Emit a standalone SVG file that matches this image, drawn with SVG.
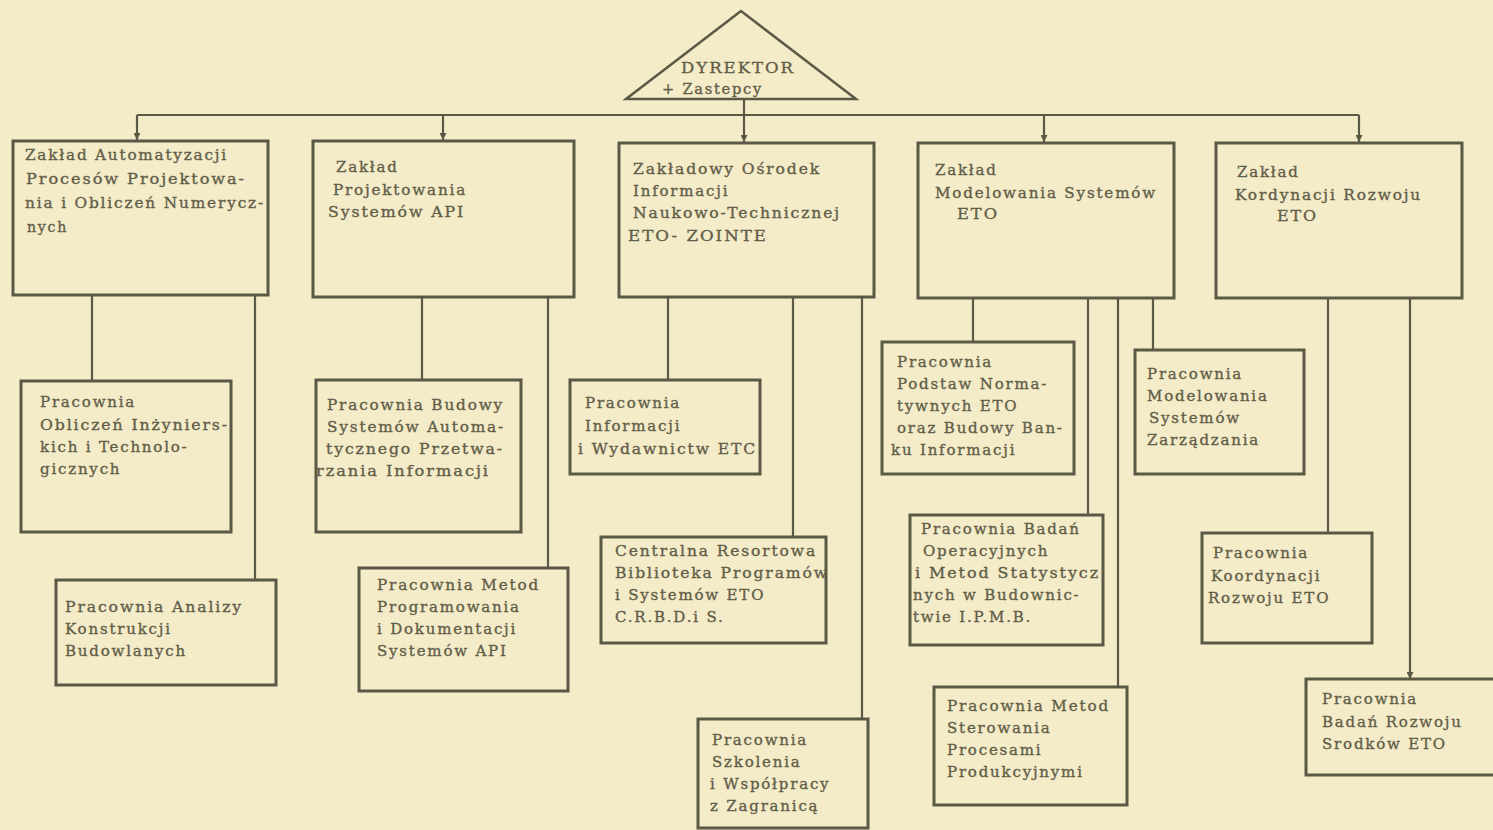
<svg xmlns="http://www.w3.org/2000/svg" width="1493" height="830" viewBox="0 0 1493 830">
<style>
.bg{fill:#f4ebc8}
.box{fill:none;stroke:#5a5946;stroke-width:3}
.con{fill:none;stroke:#5a5946;stroke-width:2.2}
text{font-family:"DejaVu Serif","Liberation Serif",serif;font-size:15px;letter-spacing:1.8px;fill:#625e48;stroke:#625e48;stroke-width:0.35}
</style>
<defs>
<marker id="arr" viewBox="0 0 10 10" refX="10" refY="5" markerWidth="8" markerHeight="7" markerUnits="userSpaceOnUse" orient="auto">
<path d="M0,0 L10,5 L0,10 Z" fill="#5a5946"/>
</marker>
</defs>
<rect class="bg" x="0" y="0" width="1493" height="830"/>

<g id="connectors">
<path class="con" d="M137,115 L1359,115"/>
<path class="con" d="M744,99 L744,142" marker-end="url(#arr)"/>
<path class="con" d="M137,115 L137,140" marker-end="url(#arr)"/>
<path class="con" d="M443,115 L443,140" marker-end="url(#arr)"/>
<path class="con" d="M1044,115 L1044,142" marker-end="url(#arr)"/>
<path class="con" d="M1359,115 L1359,142" marker-end="url(#arr)"/>
<path class="con" d="M92,295 L92,381"/>
<path class="con" d="M255,295 L255,580"/>
<path class="con" d="M422,297 L422,380"/>
<path class="con" d="M548,297 L548,568"/>
<path class="con" d="M668,297 L668,380"/>
<path class="con" d="M793,297 L793,537"/>
<path class="con" d="M862,297 L862,719"/>
<path class="con" d="M973,298 L973,342"/>
<path class="con" d="M1088,298 L1088,515"/>
<path class="con" d="M1118,298 L1118,687"/>
<path class="con" d="M1153,298 L1153,350"/>
<path class="con" d="M1328,298 L1328,533"/>
<path class="con" d="M1410,298 L1410,679" marker-end="url(#arr)"/>
</g>

<g id="dyrektor">
<path d="M741,11 L626,99 L856,99 Z" fill="none" stroke="#5a5946" stroke-width="2.5"/>
<text x="681" y="73" textLength="114" lengthAdjust="spacingAndGlyphs">DYREKTOR</text>
<text x="662" y="94" textLength="101" lengthAdjust="spacingAndGlyphs">+ Zastepcy</text>
</g>

<g id="zaklad-automatyzacji">
<rect class="box" x="13" y="141" width="255" height="154"/>
<text x="25" y="160" textLength="203" lengthAdjust="spacingAndGlyphs">Zakład Automatyzacji</text>
<text x="26" y="184" textLength="220" lengthAdjust="spacingAndGlyphs">Procesów Projektowa-</text>
<text x="25" y="208" textLength="240" lengthAdjust="spacingAndGlyphs">nia i Obliczeń Numerycz-</text>
<text x="27" y="232" textLength="41" lengthAdjust="spacingAndGlyphs">nych</text>
</g>

<g id="zaklad-projektowania">
<rect class="box" x="313" y="141" width="261" height="156"/>
<text x="336" y="172">Zakład</text>
<text x="333" y="195" textLength="134" lengthAdjust="spacingAndGlyphs">Projektowania</text>
<text x="328" y="217" textLength="137" lengthAdjust="spacingAndGlyphs">Systemów API</text>
</g>

<g id="zaklad-zointe">
<rect class="box" x="619" y="143" width="255" height="154"/>
<text x="633" y="174" textLength="188" lengthAdjust="spacingAndGlyphs">Zakładowy Ośrodek</text>
<text x="633" y="196">Informacji</text>
<text x="633" y="218" textLength="208" lengthAdjust="spacingAndGlyphs">Naukowo-Technicznej</text>
<text x="628" y="241" textLength="140" lengthAdjust="spacingAndGlyphs">ETO- ZOINTE</text>
</g>

<g id="zaklad-modelowania">
<rect class="box" x="918" y="143" width="256" height="155"/>
<text x="935" y="175">Zakład</text>
<text x="935" y="198" textLength="222" lengthAdjust="spacingAndGlyphs">Modelowania Systemów</text>
<text x="957" y="219" textLength="42" lengthAdjust="spacingAndGlyphs">ETO</text>
</g>

<g id="zaklad-kordynacji">
<rect class="box" x="1216" y="143" width="246" height="155"/>
<text x="1237" y="177">Zakład</text>
<text x="1235" y="200" textLength="187" lengthAdjust="spacingAndGlyphs">Kordynacji Rozwoju</text>
<text x="1277" y="221" textLength="41" lengthAdjust="spacingAndGlyphs">ETO</text>
</g>

<g id="pracownia-obliczen">
<rect class="box" x="21" y="381" width="210" height="151"/>
<text x="40" y="407">Pracownia</text>
<text x="40" y="430" textLength="189" lengthAdjust="spacingAndGlyphs">Obliczeń Inżyniers-</text>
<text x="40" y="452">kich i Technolo-</text>
<text x="40" y="474">gicznych</text>
</g>

<g id="pracownia-analizy">
<rect class="box" x="56" y="580" width="220" height="105"/>
<text x="65" y="612" textLength="178" lengthAdjust="spacingAndGlyphs">Pracownia Analizy</text>
<text x="65" y="634">Konstrukcji</text>
<text x="65" y="656">Budowlanych</text>
</g>

<g id="pracownia-budowy">
<rect class="box" x="316" y="380" width="205" height="152"/>
<text x="327" y="410" textLength="177" lengthAdjust="spacingAndGlyphs">Pracownia Budowy</text>
<text x="327" y="432" textLength="178" lengthAdjust="spacingAndGlyphs">Systemów Automa-</text>
<text x="326" y="454" textLength="178" lengthAdjust="spacingAndGlyphs">tycznego Przetwa-</text>
<text x="316" y="476" textLength="174" lengthAdjust="spacingAndGlyphs">rzania Informacji</text>
</g>

<g id="pracownia-metod-programowania">
<rect class="box" x="359" y="568" width="209" height="123"/>
<text x="377" y="590" textLength="163" lengthAdjust="spacingAndGlyphs">Pracownia Metod</text>
<text x="377" y="612">Programowania</text>
<text x="377" y="634">i Dokumentacji</text>
<text x="377" y="656">Systemów API</text>
</g>

<g id="pracownia-informacji">
<rect class="box" x="570" y="380" width="190" height="94"/>
<text x="585" y="408">Pracownia</text>
<text x="585" y="431">Informacji</text>
<text x="578" y="454" textLength="179" lengthAdjust="spacingAndGlyphs">i Wydawnictw ETC</text>
</g>

<g id="crbdis">
<rect class="box" x="601" y="537" width="225" height="106"/>
<text x="615" y="556" textLength="202" lengthAdjust="spacingAndGlyphs">Centralna Resortowa</text>
<text x="615" y="578" textLength="214" lengthAdjust="spacingAndGlyphs">Biblioteka Programów</text>
<text x="615" y="600">i Systemów ETO</text>
<text x="615" y="622">C.R.B.D.i S.</text>
</g>

<g id="pracownia-szkolenia">
<rect class="box" x="698" y="719" width="170" height="109"/>
<text x="712" y="745">Pracownia</text>
<text x="712" y="767">Szkolenia</text>
<text x="710" y="789">i Współpracy</text>
<text x="710" y="811">z Zagranicą</text>
</g>

<g id="pracownia-podstaw">
<rect class="box" x="882" y="342" width="192" height="132"/>
<text x="897" y="367">Pracownia</text>
<text x="897" y="389">Podstaw Norma-</text>
<text x="897" y="411">tywnych ETO</text>
<text x="897" y="433">oraz Budowy Ban-</text>
<text x="891" y="455">ku Informacji</text>
</g>

<g id="pracownia-badan-operacyjnych">
<rect class="box" x="910" y="515" width="193" height="130"/>
<text x="921" y="534">Pracownia Badań</text>
<text x="923" y="556">Operacyjnych</text>
<text x="915" y="578" textLength="185" lengthAdjust="spacingAndGlyphs">i Metod Statystycz</text>
<text x="913" y="600">nych w Budownic-</text>
<text x="913" y="622">twie I.P.M.B.</text>
</g>

<g id="pracownia-metod-sterowania">
<rect class="box" x="934" y="687" width="193" height="118"/>
<text x="947" y="711" textLength="163" lengthAdjust="spacingAndGlyphs">Pracownia Metod</text>
<text x="947" y="733">Sterowania</text>
<text x="947" y="755">Procesami</text>
<text x="947" y="777">Produkcyjnymi</text>
</g>

<g id="pracownia-modelowania">
<rect class="box" x="1135" y="350" width="169" height="124"/>
<text x="1147" y="379">Pracownia</text>
<text x="1147" y="401">Modelowania</text>
<text x="1149" y="423">Systemów</text>
<text x="1147" y="445">Zarządzania</text>
</g>

<g id="pracownia-koordynacji">
<rect class="box" x="1202" y="533" width="170" height="110"/>
<text x="1213" y="558">Pracownia</text>
<text x="1211" y="581">Koordynacji</text>
<text x="1208" y="603">Rozwoju ETO</text>
</g>

<g id="pracownia-badan-rozwoju">
<rect class="box" x="1306" y="679" width="200" height="96"/>
<text x="1322" y="704">Pracownia</text>
<text x="1322" y="727">Badań Rozwoju</text>
<text x="1322" y="749">Srodków ETO</text>
</g>
</svg>
